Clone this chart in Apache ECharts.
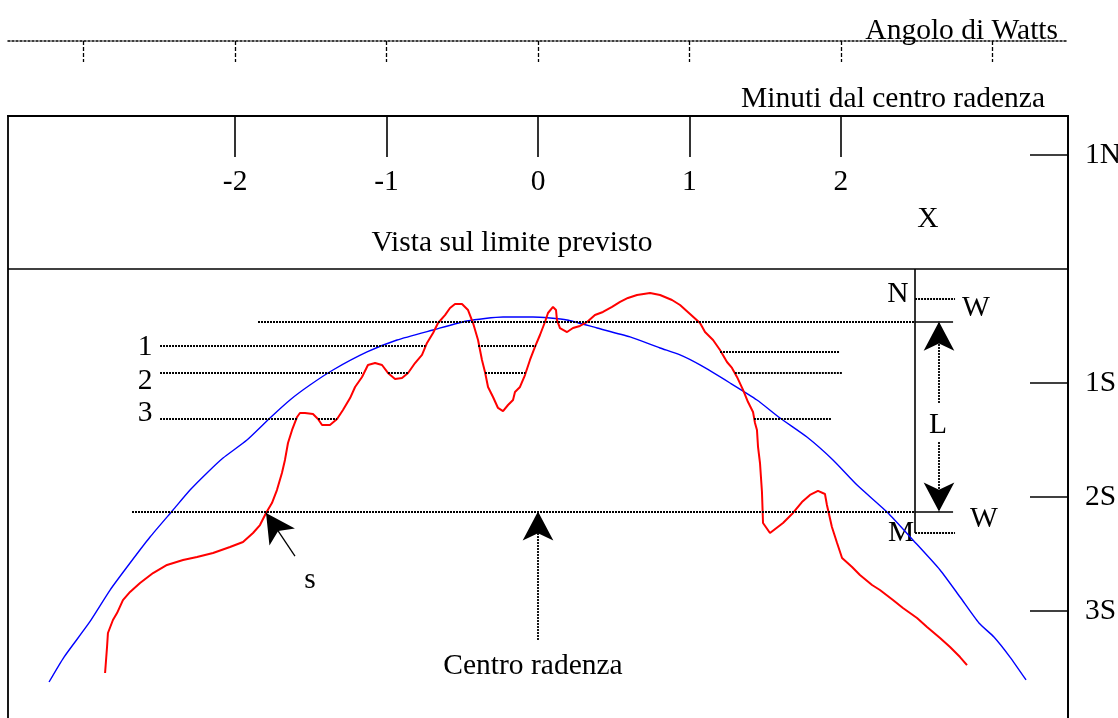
<!DOCTYPE html>
<html><head><meta charset="utf-8">
<script src="https://cdn.jsdelivr.net/npm/echarts@6/dist/echarts.min.js"></script>
<style>html,body{margin:0;padding:0;background:#fff}#c{width:1118px;height:718px}</style>
</head><body><div id="c"></div><script>
// ---- data (x: minutes from grazing centre, y: limit units, + = N, - = S) ----
const minuteTicks = [-2, -1, 0, 1, 2];
const wattsTicks = [-3, -2, -1, 0, 1, 2, 3];
const limitTicks = [1, -1, -2, -3];
const limitLabels = ['1N', '1S', '2S', '3S'];

const limbProfile = [[-2.859,-3.544],[-2.846,-3.316],[-2.840,-3.193],[-2.807,-3.079],[-2.780,-3.018],[-2.741,-2.904],[-2.694,-2.833],[-2.628,-2.754],[-2.542,-2.667],[-2.450,-2.596],[-2.344,-2.553],[-2.252,-2.526],[-2.146,-2.491],[-2.034,-2.439],[-1.948,-2.395],[-1.882,-2.316],[-1.836,-2.246],[-1.796,-2.140],[-1.757,-2.053],[-1.724,-1.939],[-1.691,-1.789],[-1.671,-1.675],[-1.651,-1.526],[-1.624,-1.412],[-1.591,-1.298],[-1.572,-1.263],[-1.539,-1.263],[-1.486,-1.272],[-1.453,-1.316],[-1.426,-1.368],[-1.374,-1.368],[-1.327,-1.316],[-1.288,-1.237],[-1.241,-1.132],[-1.208,-1.035],[-1.162,-0.947],[-1.123,-0.842],[-1.076,-0.825],[-1.030,-0.842],[-0.991,-0.912],[-0.944,-0.965],[-0.898,-0.956],[-0.858,-0.912],[-0.812,-0.825],[-0.766,-0.754],[-0.733,-0.649],[-0.693,-0.561],[-0.660,-0.474],[-0.614,-0.404],[-0.581,-0.342],[-0.548,-0.307],[-0.502,-0.307],[-0.462,-0.360],[-0.429,-0.474],[-0.396,-0.623],[-0.370,-0.798],[-0.350,-0.904],[-0.330,-1.035],[-0.297,-1.123],[-0.264,-1.219],[-0.231,-1.246],[-0.198,-1.193],[-0.165,-1.149],[-0.152,-1.079],[-0.119,-1.035],[-0.086,-0.930],[-0.053,-0.798],[-0.020,-0.684],[0.013,-0.579],[0.046,-0.465],[0.066,-0.386],[0.099,-0.333],[0.119,-0.360],[0.125,-0.447],[0.145,-0.518],[0.192,-0.553],[0.231,-0.518],[0.277,-0.500],[0.324,-0.465],[0.376,-0.404],[0.429,-0.377],[0.489,-0.333],[0.542,-0.289],[0.594,-0.254],[0.654,-0.228],[0.740,-0.211],[0.806,-0.228],[0.885,-0.272],[0.938,-0.316],[1.004,-0.395],[1.070,-0.474],[1.103,-0.553],[1.156,-0.623],[1.202,-0.711],[1.248,-0.816],[1.281,-0.868],[1.314,-0.947],[1.354,-1.061],[1.387,-1.167],[1.420,-1.254],[1.433,-1.351],[1.446,-1.412],[1.453,-1.561],[1.466,-1.702],[1.479,-1.956],[1.486,-2.228],[1.532,-2.316],[1.618,-2.228],[1.684,-2.140],[1.743,-2.044],[1.796,-1.982],[1.849,-1.947],[1.895,-1.974],[1.908,-2.070],[1.941,-2.263],[1.975,-2.404],[2.008,-2.535],[2.074,-2.614],[2.126,-2.684],[2.206,-2.772],[2.258,-2.816],[2.344,-2.904],[2.410,-2.974],[2.503,-3.061],[2.569,-3.140],[2.655,-3.237],[2.721,-3.316],[2.787,-3.404],[2.833,-3.474]];

const meanLimb = [[-3.229,-3.623],[-3.130,-3.404],[-2.965,-3.105],[-2.826,-2.816],[-2.694,-2.579],[-2.562,-2.351],[-2.410,-2.114],[-2.298,-1.939],[-2.186,-1.789],[-2.080,-1.658],[-1.922,-1.500],[-1.770,-1.307],[-1.638,-1.149],[-1.506,-1.018],[-1.354,-0.886],[-1.129,-0.728],[-0.931,-0.623],[-0.693,-0.535],[-0.469,-0.456],[-0.231,-0.421],[-0.033,-0.421],[0.192,-0.447],[0.390,-0.518],[0.608,-0.596],[0.806,-0.693],[0.938,-0.754],[1.070,-0.842],[1.268,-1.000],[1.446,-1.149],[1.598,-1.307],[1.776,-1.474],[1.948,-1.675],[2.107,-1.895],[2.305,-2.132],[2.476,-2.377],[2.655,-2.640],[2.787,-2.877],[2.912,-3.105],[3.011,-3.228],[3.117,-3.404],[3.223,-3.605]];

// chord segments: [xStart, xEnd, y]
const chord1 = [[-2.496, -0.743, -0.671], [-0.396, -0.013, -0.671], [1.202, 1.994, -0.724]];
const chord2 = [[-2.496, -1.162, -0.912], [-0.991, -0.858, -0.912], [-0.350, -0.083, -0.912], [1.300, 2.008, -0.912]];
const chord3 = [[-2.496, -1.591, -1.318], [-1.453, -1.327, -1.318], [1.426, 1.941, -1.318]];
const limitLines = [[-1.849, 2.490, -0.462], [-2.681, 2.490, -2.127]];   // northern (N) and southern (M) limit lines
const limitStubs = [[2.490, 2.741, -0.462], [2.490, 2.741, -2.127]];
const wLines = [[2.490, 2.754, -0.263], [2.490, 2.754, -2.316]];
const limitRule = [2.490, 0, -2.316];        // x, yTop, yBottom
const lArrowX = 2.648;
const lArrowUp = [-1.175, -0.462];           // from, to
const lArrowDown = [-1.518, -2.127];
const centreArrow = [0, -3.254, -2.127];     // x, from, to
const sArrow = [[-1.605, -2.518], [-1.796, -2.140]];

// ---- build ----
const FONT = '"Liberation Serif","Times New Roman",serif';
const FS = 29.5;
const dashed = {type: [2, 1], width: 1.8, color: '#000'};
const solid = {type: 'solid', width: 1.6, color: '#000'};
const ARW = [23, 29];

function seg(x1, y1, x2, y2, style, endSym) {
  return [
    {coord: [x1, y1], symbol: 'none', lineStyle: style},
    {coord: [x2, y2], symbol: endSym || 'none', symbolSize: ARW, lineStyle: style}
  ];
}
const ml = [];
[chord1, chord2, chord3, limitLines].forEach(arr => arr.forEach(s => ml.push(seg(s[0], s[2], s[1], s[2], dashed))));
limitStubs.forEach(s => ml.push(seg(s[0], s[2], s[1], s[2], solid)));
wLines.forEach(s => ml.push(seg(s[0], s[2], s[1], s[2], dashed)));
ml.push(seg(limitRule[0], limitRule[1], limitRule[0], limitRule[2], solid));
ml.push(seg(lArrowX, lArrowUp[0], lArrowX, lArrowUp[1], dashed, 'arrow'));
ml.push(seg(lArrowX, lArrowDown[0], lArrowX, lArrowDown[1], dashed, 'arrow'));
ml.push(seg(centreArrow[0], centreArrow[1], centreArrow[0], centreArrow[2], dashed, 'arrow'));
ml.push(seg(sArrow[0][0], sArrow[0][1], sArrow[1][0], sArrow[1][1], {type: 'solid', width: 1.3, color: '#000'}, 'arrow'));

function txt(s, x, y, align) {
  return {type: 'text', x: x, y: y, silent: true,
    style: {text: s, font: FS + 'px ' + FONT, fill: '#000', align: align || 'center', verticalAlign: 'middle',
            textAlign: align || 'center', textVerticalAlign: 'middle'}};
}

const chart = echarts.init(document.getElementById('c'), null, {renderer: 'canvas'});
chart.setOption({
  animation: false,
  backgroundColor: '#fff',
  grid: {left: 8, top: 116, width: 1060, height: 609, show: true, borderColor: '#000', borderWidth: 1.8,
         containLabel: false, outerBoundsMode: 'none'},
  xAxis: [
    {type: 'value', min: -3.5, max: 3.5, position: 'top', splitLine: {show: false},
     axisLine: {show: true, onZero: false, lineStyle: {color: '#000', width: 1.8}},
     axisTick: {show: true, inside: true, length: 41, customValues: minuteTicks, lineStyle: {color: '#000', width: 1.6}},
     axisLabel: {show: true, inside: true, margin: 51, customValues: minuteTicks, color: '#000', fontFamily: FONT, fontSize: FS,
                 formatter: v => String(v)}},
    {type: 'value', min: -3.5, max: 3.5, position: 'top', offset: 75, splitLine: {show: false},
     axisLine: {show: true, onZero: false, lineStyle: {color: '#000', width: 1.5, type: [2, 2]}},
     axisTick: {show: true, inside: true, length: 21, customValues: wattsTicks, lineStyle: {color: '#000', width: 1.3, type: [4, 2]}},
     axisLabel: {show: false}}
  ],
  yAxis: [
    {type: 'value', min: -4, max: 1.342, position: 'right', splitLine: {show: false},
     axisLine: {show: true, onZero: false, lineStyle: {color: '#000', width: 1.8}},
     axisTick: {show: true, inside: true, length: 38, customValues: limitTicks, lineStyle: {color: '#000', width: 1.6}},
     axisLabel: {show: true, margin: 17, customValues: limitTicks, color: '#000', fontFamily: FONT, fontSize: FS,
                 formatter: v => { const i = limitTicks.indexOf(Math.round(v)); return i >= 0 ? limitLabels[i] : ''; }}}
  ],
  series: [
    {type: 'line', name: 'mean limb', data: meanLimb, symbol: 'none', smooth: 0.2, silent: true,
     lineStyle: {color: '#0000ff', width: 1.4}, z: 2,
     markLine: {silent: true, symbol: ['none', 'none'], label: {show: false}, animation: false,
                data: [{yAxis: 0, lineStyle: solid}].concat(ml)}},
    {type: 'line', name: 'limb profile', data: limbProfile, symbol: 'none', silent: true,
     lineStyle: {color: '#ff0000', width: 2}, z: 3}
  ],
  graphic: [
    txt('Angolo di Watts', 1058, 31, 'right'),
    txt('Minuti dal centro radenza', 1045, 99, 'right'),
    txt('X', 928, 219),
    txt('Vista sul limite previsto', 512, 243),
    txt('1', 145, 347),
    txt('2', 145, 381),
    txt('3', 145, 413),
    txt('N', 898, 294),
    txt('W', 976, 308),
    txt('L', 938, 425),
    txt('W', 984, 519),
    txt('M', 901, 533),
    txt('s', 310, 580),
    txt('Centro radenza', 533, 666)
  ]
});
</script></body></html>
